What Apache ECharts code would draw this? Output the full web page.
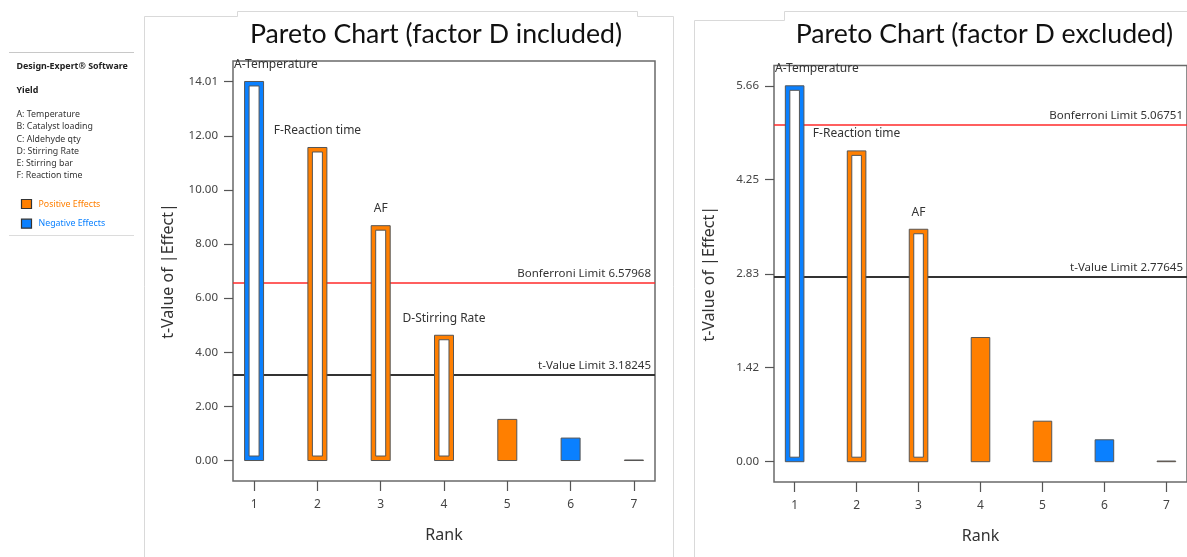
<!DOCTYPE html>
<html><head><meta charset="utf-8">
<script src="https://cdn.jsdelivr.net/npm/echarts@6/dist/echarts.min.js"></script>
<style>html,body{margin:0;padding:0;background:#fff}#c{width:1187px;height:557px}</style>
</head><body><div id="c"></div>
<script>
// ---------- data ----------
const ranks = [1, 2, 3, 4, 5, 6, 7];
const rankLabels = ['1', '2', '3', '4', '5', '6', '7'];

const leftTitle = 'Pareto Chart (factor D included)';
const leftValues = [14.01, 11.57, 8.68, 4.63, 1.52, 0.83, 0.02];
const leftSigns = ['-', '+', '+', '+', '+', '-', '+'];
const leftNames = ['A-Temperature', 'F-Reaction time', 'AF', 'D-Stirring Rate', '', '', ''];
const leftTicks = [0, 2, 4, 6, 8, 10, 12, 14.01];
const leftBonferroni = 6.57968;
const leftTLimit = 3.18245;

const rightTitle = 'Pareto Chart (factor D excluded)';
const rightValues = [5.66, 4.68, 3.50, 1.87, 0.61, 0.33, 0.01];
const rightSigns = ['-', '+', '+', '+', '+', '-', '+'];
const rightNames = ['A-Temperature', 'F-Reaction time', 'AF', '', '', '', ''];
const rightTicks = [0, 1.42, 2.83, 4.25, 5.66];
const rightBonferroni = 5.06751;
const rightTLimit = 2.77645;

const sideHeader = 'Design-Expert® Software';
const sideResponse = 'Yield';
const factorList = ['A: Temperature', 'B: Catalyst loading', 'C: Aldehyde qty', 'D: Stirring Rate', 'E: Stirring bar', 'F: Reaction time'];
const legendItems = ['Positive Effects', 'Negative Effects'];

// ---------- styles ----------
const ORANGE = '#FF7F00';
const BLUE = '#0A80FF';
const EDGE = '#555555';
const FONT = '"Noto Sans", "Open Sans", sans-serif';

function makeGridAxes(idx, ticks) {
  const maxV = ticks[ticks.length - 1];
  const pad = maxV * 0.054;
  const xAxis = {
    gridIndex: idx, type: 'value', min: 0.667, max: 7.333,
    axisLine: { show: false, onZero: false },
    splitLine: { show: false },
    axisTick: { show: true, length: 10, customValues: ranks, lineStyle: { color: EDGE, width: 1.2 } },
    axisLabel: { customValues: ranks, margin: 18, color: '#444', fontSize: 12, fontFamily: FONT,
      formatter: v => rankLabels[ranks.indexOf(Math.round(v))] || '' },
    name: 'Rank', nameLocation: 'middle', nameGap: 46,
    nameTextStyle: { fontSize: 16, color: '#333', fontFamily: FONT }
  };
  const yAxis = {
    gridIndex: idx, type: 'value', min: -pad, max: maxV + pad,
    axisLine: { show: false, onZero: false },
    splitLine: { show: false },
    axisTick: { show: true, length: 9, customValues: ticks, lineStyle: { color: EDGE, width: 1.2 } },
    axisLabel: { customValues: ticks, margin: 15, color: '#444', fontSize: 11.5, fontFamily: FONT,
      formatter: v => v.toFixed(2) },
    name: 't-Value of |Effect|', nameLocation: 'middle', nameGap: 57,
    nameTextStyle: { fontSize: 16, color: '#333', fontFamily: FONT }
  };
  return { xAxis, yAxis };
}

function makeBarSeries(idx, values, signs, names, tLimit) {
  return {
    type: 'custom', xAxisIndex: idx, yAxisIndex: idx, z: 5, clip: false,
    data: ranks.map((r, i) => [r, values[i]]),
    encode: { x: 0, y: 1 },
    renderItem: function (params, api) {
      const i = params.dataIndex;
      const x = api.value(0), v = api.value(1);
      const base = api.coord([x, 0]);
      const top = api.coord([x, v]);
      const w = api.size([0.3, 0])[0];
      const h = base[1] - top[1];
      const color = signs[i] === '-' ? BLUE : ORANGE;
      const hollow = v > tLimit;
      const cs = params.coordSys;
      const children = [{
        type: 'rect',
        shape: { x: base[0] - w / 2, y: top[1], width: w, height: Math.max(h, 0.5) },
        style: { fill: color, stroke: EDGE, lineWidth: 1 }
      }];
      if (hollow) {
        const inset = 4.5;
        children.push({
          type: 'rect',
          shape: { x: base[0] - w / 2 + inset, y: top[1] + inset, width: w - 2 * inset, height: h - 2 * inset },
          style: { fill: '#fff', stroke: EDGE, lineWidth: 1 }
        });
        if (names[i]) {
          let tx = base[0], align = 'center';
          const approxW = names[i].length * 6.1;
          if (tx - approxW / 2 < cs.x + 1) { tx = cs.x + 1; align = 'left'; }
          children.push({
            type: 'text', x: tx, y: top[1] - 17,
            style: { text: names[i], fill: '#333', font: '12px ' + FONT, align: align, verticalAlign: 'middle' }
          });
        }
      }
      return { type: 'group', children };
    }
  };
}

function makeLimitSeries(idx, bonf, tlim) {
  return {
    type: 'line', xAxisIndex: idx, yAxisIndex: idx, data: [], z: 1,
    markLine: {
      silent: true, symbol: 'none', animation: false,
      label: { position: 'insideEndTop', distance: [4, 3], color: '#333', fontSize: 11.5, fontFamily: FONT },
      data: [
        { yAxis: bonf, lineStyle: { color: '#FF2A2A', width: 1.6, type: 'solid' },
          label: { formatter: 'Bonferroni Limit ' + bonf.toFixed(5) } },
        { yAxis: tlim, lineStyle: { color: '#333', width: 2, type: 'solid' },
          label: { formatter: 't-Value Limit ' + tlim.toFixed(5) } }
      ]
    }
  };
}

const gridL = { left: 233, top: 61, width: 422, height: 420 };
const gridR = { left: 774, top: 65.5, width: 418.7, height: 416.5 };
const aL = makeGridAxes(0, leftTicks);
const aR = makeGridAxes(1, rightTicks);

const gridStyle = { show: true, borderColor: '#6a6a6a', borderWidth: 1.5, backgroundColor: 'transparent' };

// sidebar + panel frames as graphic
const graphics = [];
const lightLine = { stroke: '#d9d9d9', lineWidth: 1, fill: null };
graphics.push({ type: 'polyline', shape: { points: [[144.5, 557], [144.5, 16.5], [237.5, 16.5], [237.5, 11.5], [637.5, 11.5], [637.5, 16.5], [673.5, 16.5], [673.5, 557]] }, style: lightLine, silent: true });
graphics.push({ type: 'polyline', shape: { points: [[694.5, 557], [694.5, 20.5], [784.5, 20.5], [784.5, 11.5], [1187, 11.5]] }, style: lightLine, silent: true });
graphics.push({ type: 'line', shape: { x1: 9, y1: 52.5, x2: 134, y2: 52.5 }, style: { stroke: '#c8c8c8', lineWidth: 1 }, silent: true });
graphics.push({ type: 'line', shape: { x1: 9, y1: 235.5, x2: 134, y2: 235.5 }, style: { stroke: '#dcdcdc', lineWidth: 1 }, silent: true });
graphics.push({ type: 'text', x: 16.5, y: 66, style: { text: sideHeader, font: 'bold 8.9px ' + FONT, fill: '#222', verticalAlign: 'middle' } });
graphics.push({ type: 'text', x: 16.5, y: 90.5, style: { text: sideResponse, font: 'bold 8.9px ' + FONT, fill: '#222', verticalAlign: 'middle' } });
factorList.forEach((t, i) => {
  graphics.push({ type: 'text', x: 16.5, y: 114.7 + i * 12.2, style: { text: t, font: '8.8px ' + FONT, fill: '#333', verticalAlign: 'middle' } });
});
[ORANGE, BLUE].forEach((c, i) => {
  const y = 199.5 + i * 19.7;
  graphics.push({ type: 'rect', shape: { x: 21.5, y: y, width: 10, height: 9 }, style: { fill: c, stroke: '#333', lineWidth: 1.2 } });
  graphics.push({ type: 'text', x: 38.5, y: y + 4.6, style: { text: legendItems[i], font: '8.8px ' + FONT, fill: c, verticalAlign: 'middle' } });
});
graphics.push({ type: 'text', x: 436, y: 34, style: { text: leftTitle, font: '26.7px Lato, "Open Sans", sans-serif', fill: '#111', align: 'center', verticalAlign: 'middle' } });
graphics.push({ type: 'text', x: 984.5, y: 34, style: { text: rightTitle, font: '26.7px Lato, "Open Sans", sans-serif', fill: '#111', align: 'center', verticalAlign: 'middle' } });

const chart = echarts.init(document.getElementById('c'), null, { renderer: 'canvas' });
chart.setOption({
  backgroundColor: '#fff',
  animation: false,
  textStyle: { fontFamily: FONT },
  grid: [Object.assign({}, gridL, gridStyle), Object.assign({}, gridR, gridStyle)],
  xAxis: [aL.xAxis, aR.xAxis],
  yAxis: [aL.yAxis, aR.yAxis],
  graphic: graphics,
  series: [
    makeLimitSeries(0, leftBonferroni, leftTLimit),
    makeLimitSeries(1, rightBonferroni, rightTLimit),
    makeBarSeries(0, leftValues, leftSigns, leftNames, leftTLimit),
    makeBarSeries(1, rightValues, rightSigns, rightNames, rightTLimit)
  ]
});
</script></body></html>
